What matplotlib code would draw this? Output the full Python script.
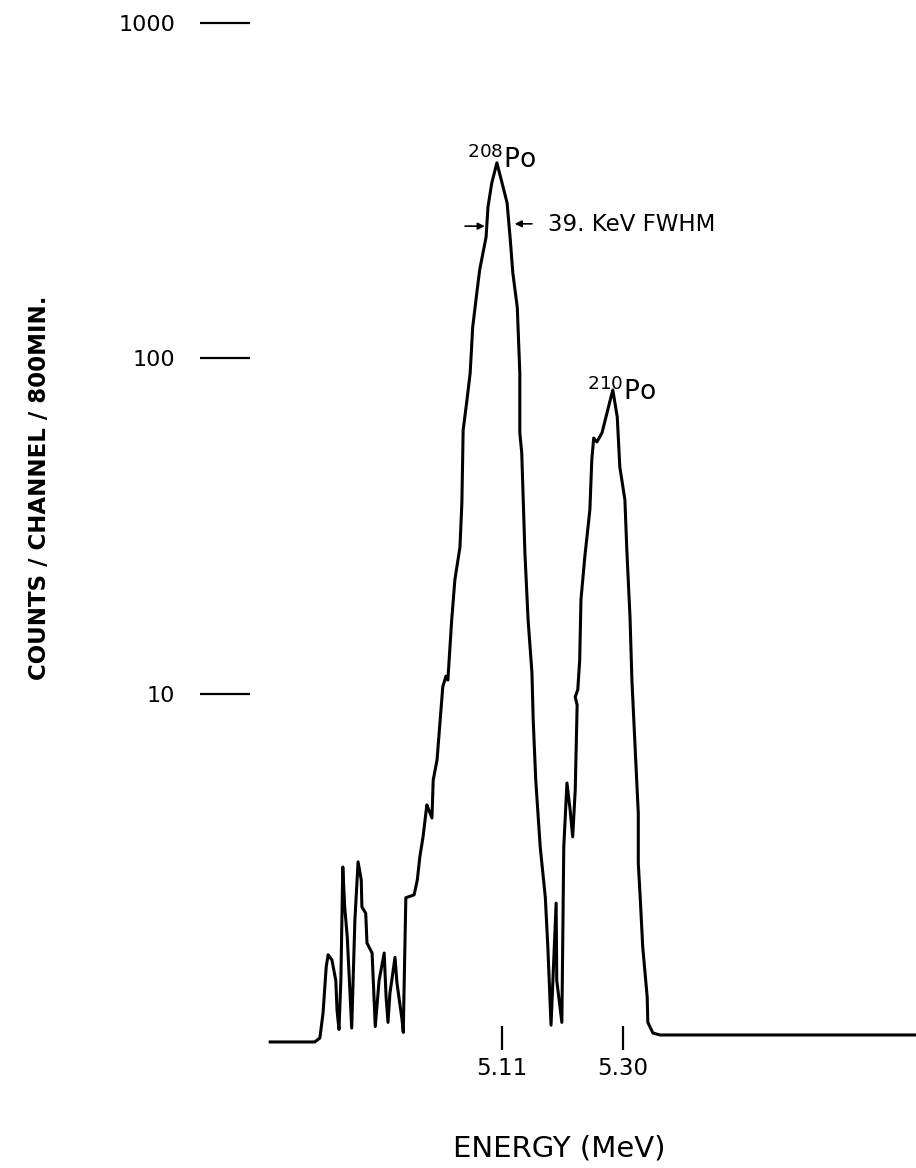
import matplotlib
matplotlib.use("Agg")
import matplotlib.pyplot as plt
from matplotlib.ticker import NullLocator

# ---- data (energy in MeV, counts / channel / 800 min) ----
energy = [4.746, 4.816, 4.824, 4.829, 4.834, 4.837, 4.843, 4.849, 4.851, 4.854,
          4.857, 4.860, 4.863, 4.867, 4.874, 4.879, 4.884, 4.889, 4.890, 4.896,
          4.898, 4.906, 4.911, 4.917, 4.925, 4.928, 4.931, 4.934, 4.942, 4.945,
          4.953, 4.955, 4.956, 4.959, 4.972, 4.977, 4.981, 4.986, 4.992, 4.994,
          5.000, 5.002, 5.008, 5.017, 5.022, 5.025, 5.031, 5.036, 5.044, 5.047,
          5.049, 5.055, 5.060, 5.064, 5.071, 5.075, 5.085, 5.088, 5.094, 5.102,
          5.110, 5.118, 5.123, 5.127, 5.134, 5.138, 5.138, 5.141, 5.146, 5.151,
          5.157, 5.159, 5.163, 5.170, 5.178, 5.182, 5.187, 5.195, 5.196, 5.204,
          5.207, 5.212, 5.217, 5.221, 5.225, 5.228, 5.225, 5.229, 5.232, 5.234,
          5.240, 5.248, 5.251, 5.254, 5.259, 5.267, 5.276, 5.284, 5.291, 5.295,
          5.303, 5.306, 5.311, 5.314, 5.319, 5.324, 5.324, 5.327, 5.331, 5.338,
          5.339, 5.347, 5.358, 5.760]
counts = [0.918, 0.918, 0.943, 1.12, 1.54, 1.67, 1.61, 1.40, 1.14, 1.00,
          1.40, 3.05, 2.32, 1.89, 1.01, 2.12, 3.16, 2.79, 2.32, 2.22,
          1.81, 1.69, 1.02, 1.40, 1.69, 1.25, 1.05, 1.28, 1.64, 1.38,
          1.07, 0.98, 1.25, 2.47, 2.52, 2.79, 3.27, 3.75, 4.67, 4.57,
          4.27, 5.54, 6.36, 10.5, 11.3, 11.0, 16.6, 21.9, 27.4, 37.1,
          61.2, 75.2, 90.5, 124, 160, 184, 230, 283, 334, 383,
          334, 291, 226, 180, 142, 90.5, 60.0, 52.3, 26.3, 16.6,
          11.6, 8.37, 5.54, 3.50, 2.48, 1.76, 1.03, 2.38, 1.40, 1.05,
          3.50, 5.43, 4.51, 3.75, 5.17, 9.27, 9.80, 10.3, 12.6, 19.1,
          25.6, 35.4, 49.8, 57.9, 56.4, 60.0, 70.2, 80.6, 66.9, 47.5,
          37.9, 26.9, 17.0, 11.0, 6.95, 4.42, 3.14, 2.48, 1.76, 1.25,
          1.05, 0.976, 0.963, 0.963]

y_ticks = [10, 100, 1000]
y_tick_labels = ["10", "100", "1000"]
x_ticks = [5.11, 5.30]
x_tick_labels = ["5.11", "5.30"]

# ---- figure ----
W, H = 916, 1168
fig = plt.figure(figsize=(W / 100, H / 100), dpi=100)
fig.patch.set_facecolor("white")

ax_left, ax_right, ax_top, ax_bottom = 250, 916, 15, 1050
ax = fig.add_axes([ax_left / W, 1 - ax_bottom / H,
                   (ax_right - ax_left) / W, (ax_bottom - ax_top) / H])
ax.set_facecolor("white")
ax.set_yscale("log")

ax.plot(energy, counts, color="black", lw=2.2, solid_joinstyle="round")

ax.set_xlim(4.7143, 5.7601)
ax.set_ylim(0.8687, 1056.4)

for s in ax.spines.values():
    s.set_visible(False)

ax.set_yticks(y_ticks)
ax.set_yticklabels(y_tick_labels)
ax.yaxis.set_minor_locator(NullLocator())
ax.tick_params(axis="y", which="major", direction="out", length=36, width=1.6,
               pad=18, labelsize=16, colors="black")

ax.set_xticks(x_ticks)
ax.set_xticklabels(x_tick_labels)
ax.xaxis.set_minor_locator(NullLocator())
ax.tick_params(axis="x", which="major", direction="in", length=17, width=1.6,
               pad=5, labelsize=16.5, colors="black")

# peak labels and FWHM annotation
ax.text(5.055, 370, r"$^{208}$Po", fontsize=19, ha="left", va="baseline")
ax.text(5.2435, 75.2, r"$^{210}$Po", fontsize=19, ha="left", va="baseline")
ax.text(5.182, 250, "39. KeV FWHM", fontsize=16.5, ha="left", va="center")
arrow_kw = dict(arrowstyle="-|>", color="black", lw=1.2, mutation_scale=10,
                shrinkA=0, shrinkB=0)
ax.annotate("", xy=(5.083, 248), xytext=(5.052, 248), arrowprops=arrow_kw)
ax.annotate("", xy=(5.130, 252), xytext=(5.157, 252), arrowprops=arrow_kw)

# axis titles
fig.text(40 / W, 1 - 488 / H, "COUNTS / CHANNEL / 800MIN.", rotation=90,
         fontsize=16.5, fontweight="bold", ha="center", va="center")
fig.text(559 / W, 1 - 1149 / H, "ENERGY (MeV)", fontsize=21,
         ha="center", va="center")

fig.savefig("out.png", dpi=100, facecolor="white")
